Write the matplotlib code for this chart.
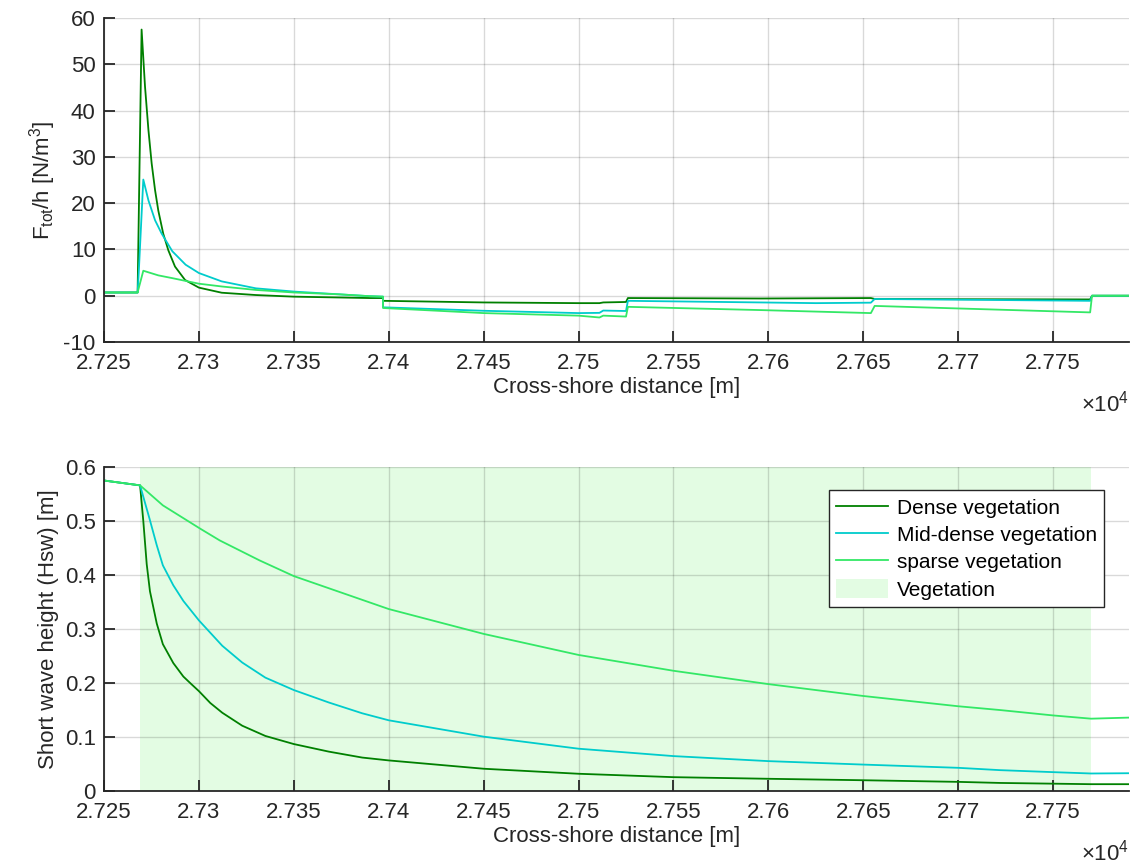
import matplotlib
matplotlib.use('Agg')
import matplotlib.pyplot as plt
from matplotlib.patches import Patch

plt.rcParams['font.family'] = ['Liberation Sans', 'DejaVu Sans']
plt.rcParams['axes.unicode_minus'] = False
plt.rcParams['mathtext.fontset'] = 'custom'
plt.rcParams['mathtext.rm'] = 'Liberation Sans'
plt.rcParams['mathtext.it'] = 'Liberation Sans:italic'

# colours
c_dense = '#008000'
c_mid = '#00CCCC'
c_sparse = '#33E866'
c_veg = '#E3FCE3'
c_axis = '#262626'

# ---- top panel: F_tot/h ----
x_f_dense = [27250, 27267.7, 27269.8, 27271.6, 27273.4, 27275.1, 27276.9, 27278.6, 27281.2,
             27283.9, 27287.4, 27292.7, 27300, 27312, 27330, 27350, 27390, 27397, 27397,
             27450, 27500, 27511, 27513, 27525, 27526, 27596, 27654, 27656, 27700, 27769.5,
             27770.5, 27790]
f_dense = [0.7, 0.7, 57.5, 45.2, 35.8, 28.6, 22.8, 18.4, 13.4,
           9.8, 6.3, 3.4, 1.75, 0.65, 0.15, -0.2, -0.5, -0.5, -1.1,
           -1.45, -1.6, -1.6, -1.45, -1.35, -0.5, -0.6, -0.5, -0.7, -0.75, -0.8,
           0.0, 0.0]

x_f_mid = [27250, 27267.7, 27268.3, 27270.7, 27273.4, 27276.9, 27280.4, 27286, 27293,
           27300, 27312, 27330, 27350, 27374, 27390, 27397, 27397, 27450, 27500, 27511, 27513,
           27525, 27526, 27596, 27625, 27654, 27656, 27700, 27769.5, 27770.5, 27790]
f_mid = [0.7, 0.7, 5.0, 25.1, 20.6, 16.3, 13.4, 9.6, 6.7,
         4.9, 3.1, 1.6, 0.9, 0.3, -0.1, -0.2, -2.5, -3.25, -3.75, -3.7, -3.2,
         -3.3, -1.1, -1.45, -1.6, -1.5, -0.7, -0.85, -1.1, 0.0, 0.0]

x_f_sparse = [27250, 27267.7, 27270.7, 27278.6, 27286, 27300, 27312, 27330, 27350, 27374,
              27390, 27397, 27397, 27450, 27500, 27511, 27513, 27525, 27526, 27596, 27654,
              27656, 27696, 27769.5, 27770.5, 27790]
f_sparse = [0.7, 0.7, 5.4, 4.4, 3.8, 2.6, 2.0, 1.25, 0.7, 0.3,
            -0.1, -0.2, -2.65, -3.75, -4.3, -4.7, -4.3, -4.5, -2.4, -3.1, -3.75,
            -2.2, -2.7, -3.6, 0.0, 0.0]

# ---- bottom panel: short wave height ----
x_h_dense = [27250, 27269, 27270.7, 27272.5, 27274.2, 27277.8, 27281, 27286.5, 27291.8,
             27296, 27300, 27306, 27312.3, 27322.8, 27335, 27350, 27368.4, 27386, 27400, 27450,
             27500, 27550, 27600, 27650, 27700, 27722, 27770, 27790]
h_dense = [0.575, 0.566, 0.50, 0.42, 0.37, 0.31, 0.272, 0.237, 0.212,
           0.198, 0.185, 0.163, 0.145, 0.121, 0.102, 0.087, 0.073, 0.062, 0.0567, 0.0413,
           0.032, 0.0257, 0.0227, 0.020, 0.017, 0.015, 0.0127, 0.0127]

x_h_mid = [27250, 27269, 27274, 27277.8, 27281, 27286.5, 27291.8, 27300, 27312.3, 27322.8,
           27335, 27350, 27368.4, 27386, 27400, 27450, 27500, 27550, 27600, 27650, 27700,
           27722, 27750, 27770, 27790]
h_mid = [0.575, 0.566, 0.504, 0.455, 0.418, 0.381, 0.352, 0.316, 0.269, 0.238,
         0.210, 0.187, 0.164, 0.144, 0.131, 0.1007, 0.0784, 0.0647, 0.0554, 0.049, 0.043,
         0.0387, 0.035, 0.0325, 0.033]

x_h_sparse = [27250, 27269, 27281, 27300.6, 27311, 27332, 27350, 27400, 27450, 27500, 27550,
              27600, 27650, 27700, 27722, 27750, 27770, 27790]
h_sparse = [0.575, 0.566, 0.529, 0.486, 0.464, 0.427, 0.398, 0.337, 0.291, 0.252, 0.2227,
            0.198, 0.176, 0.157, 0.150, 0.140, 0.134, 0.136]

veg_start, veg_end = 27269, 27770
x_ticks = [27250, 27300, 27350, 27400, 27450, 27500, 27550, 27600, 27650, 27700, 27750]
x_ticklabels = ['%g' % (v / 1e4) for v in x_ticks]

fig = plt.figure(figsize=(11.33, 8.65), dpi=100)
ax1 = fig.add_axes([0.0918, 0.6046, 0.9047, 0.3746])
ax2 = fig.add_axes([0.0918, 0.0855, 0.9047, 0.3746])

lw = 1.3
ax1.plot(x_f_dense, f_dense, color=c_dense, lw=lw)
ax1.plot(x_f_mid, f_mid, color=c_mid, lw=lw)
ax1.plot(x_f_sparse, f_sparse, color=c_sparse, lw=lw)
ax1.set_ylim(-10, 60)
ax1.set_yticks(range(-10, 61, 10))
ax1.set_ylabel('F$_{\\mathrm{tot}}$/h [N/m$^3$]')

ax2.axvspan(veg_start, veg_end, color=c_veg, lw=0, zorder=1)
l1, = ax2.plot(x_h_dense, h_dense, color=c_dense, lw=lw)
l2, = ax2.plot(x_h_mid, h_mid, color=c_mid, lw=lw)
l3, = ax2.plot(x_h_sparse, h_sparse, color=c_sparse, lw=lw)
ax2.set_ylim(0, 0.6)
ax2.set_yticks([0, 0.1, 0.2, 0.3, 0.4, 0.5, 0.6])
ax2.set_yticklabels(['0', '0.1', '0.2', '0.3', '0.4', '0.5', '0.6'])
ax2.set_ylabel('Short wave height (Hsw) [m]')

leg = ax2.legend([l1, l2, l3, Patch(facecolor=c_veg, edgecolor='none')],
                 ['Dense vegetation', 'Mid-dense vegetation', 'sparse vegetation', 'Vegetation'],
                 loc='upper right', bbox_to_anchor=(0.9756, 0.929), borderaxespad=0,
                 fontsize=15, fancybox=False, framealpha=1, edgecolor=c_axis,
                 borderpad=0.35, labelspacing=0.33, handlelength=2.5, handleheight=1.0,
                 handletextpad=0.4)
leg.get_frame().set_linewidth(1.0)

for ax in (ax1, ax2):
    ax.set_xlim(27250, 27790)
    ax.set_xticks(x_ticks)
    ax.set_xticklabels(x_ticklabels)
    ax.set_xlabel('Cross-shore distance [m]', fontsize=16, color=c_axis, labelpad=2)
    ax.yaxis.label.set_size(16)
    ax.yaxis.label.set_color(c_axis)
    ax.grid(True, color='#000000', alpha=0.15, lw=1.0)
    ax.set_axisbelow('line')
    ax.spines['top'].set_visible(False)
    ax.spines['right'].set_visible(False)
    for s in ('left', 'bottom'):
        ax.spines[s].set_color(c_axis)
        ax.spines[s].set_linewidth(1.3)
    ax.tick_params(direction='in', length=8, width=1.3, colors=c_axis, labelsize=16)
    ax.tick_params(axis='x', pad=8)
    ax.tick_params(axis='y', pad=6)
    ax.text(1.0, -0.19, '\u00d710$^4$', transform=ax.transAxes, ha='right', va='center',
            fontsize=16, color=c_axis)

fig.savefig('out.png', dpi=100)
